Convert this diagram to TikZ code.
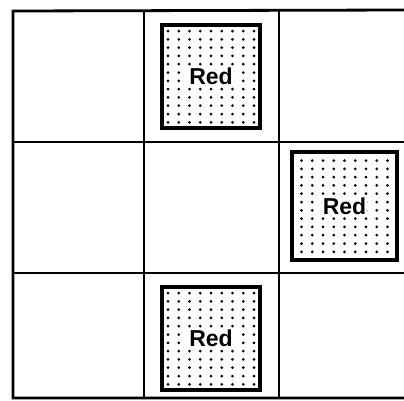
\documentclass[tikz,border=0pt]{standalone}
\usepackage{fontspec}
\setmainfont{Liberation Sans}
\begin{document}
\begin{tikzpicture}[x=1pt,y=-1pt,
  gridline/.style={line width=2.8pt, line cap=rect},
  redbox/.style={draw, fill=white, line width=3.2pt, minimum width=98pt, minimum height=103pt, inner sep=0pt},
  lbl/.style={font=\fontsize{23}{23}\selectfont\bfseries, fill=white, inner sep=1pt},
  dotfill/.pic={\foreach \i in {0,...,8} \foreach \j in {0,...,11} \fill (-43+\i*10.75, -45.5+\j*8.3) circle (1.5pt);}]
\useasboundingbox (0,0) rectangle (404,400);
% grid
\draw[gridline] (404,10) -- (13,11) -- (13,398) -- (404,398);
\draw[gridline] (13,142) -- (404,142);
\draw[gridline] (13,273) -- (404,273);
\draw[gridline] (144,11) -- (144,398);
\draw[gridline] (279,10) -- (279,398);
% boxes
\node[redbox] (b1) at (211,76.5) {};
\pic at (b1.center) {dotfill};
\node[lbl] (t1) at (b1.center) {Red};
\node[redbox, minimum width=105pt, minimum height=108pt] (b2) at (344.5,206) {};
\pic at (b2.center) {dotfill};
\node[lbl] (t2) at (b2.center) {Red};
\node[redbox] (b3) at (211,338.5) {};
\pic at (b3.center) {dotfill};
\node[lbl] (t3) at (b3.center) {Red};
\end{tikzpicture}
\end{document}
